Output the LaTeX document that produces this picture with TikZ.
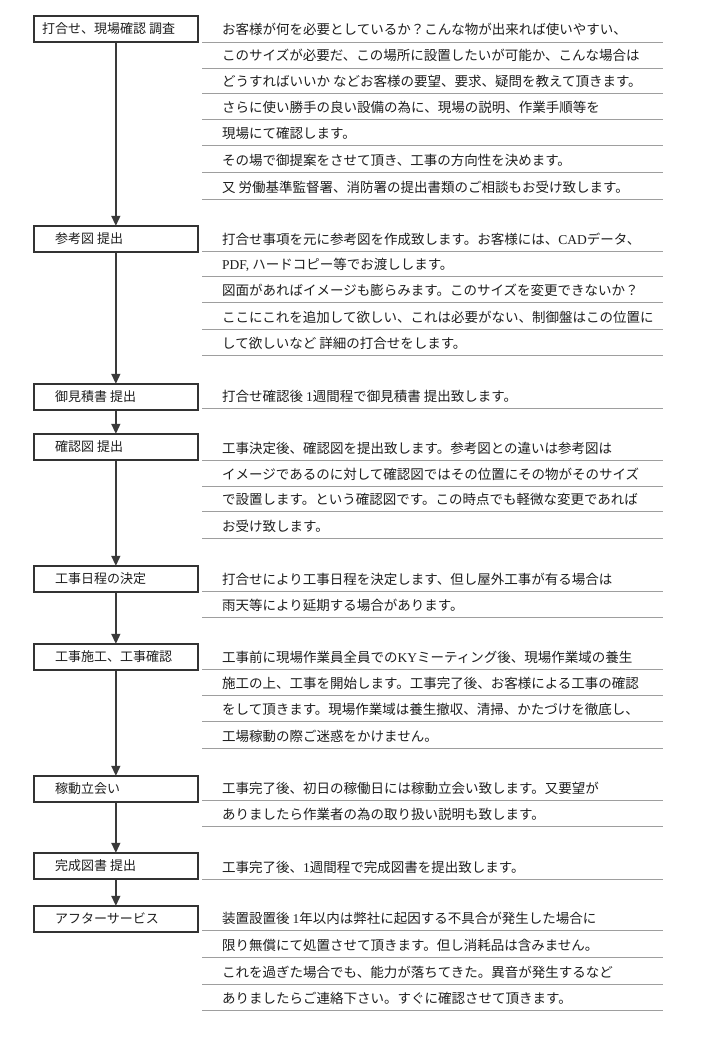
\documentclass[tikz,border=0pt]{standalone}
\usepackage{fontspec}
\setmainfont{Noto Sans CJK JP}
\newfontfamily\lat{Liberation Serif}
\usetikzlibrary{arrows.meta}
\definecolor{boxc}{HTML}{333333}
\definecolor{flowc}{HTML}{3A3A3A}
\definecolor{rulec}{HTML}{9E9E9E}
\definecolor{txtc}{HTML}{1E1E1E}
\tikzset{
  stepbox/.style={draw=boxc, line width=1.7pt, minimum width=164pt, minimum height=26pt, inner sep=0pt, anchor=north west},
  boxlbl/.style={anchor=base west, inner sep=0pt, text=txtc, font=\fontsize{13}{15}\selectfont},
  desc/.style={anchor=base west, inner sep=0pt, text=txtc, font=\fontsize{13.5}{16}\selectfont},
  rule/.style={draw=rulec, line width=0.9pt},
  flow/.style={draw=flowc, line width=1.4pt, -{Triangle[width=9pt,length=10pt]}, shorten >=-0.8pt}
}
\newcommand\drow[3]{\node[desc] (#1) at (222,#2-7) {#3}; \draw[rule] (202,#2) -- (663,#2);}
\begin{document}
\begin{tikzpicture}[x=1pt,y=-1pt]
\useasboundingbox[fill=white] (0,0) rectangle (701,1041);
% boxes
\node[stepbox] (b1) at (33,15) {};
\node[stepbox] (b2) at (33,225) {};
\node[stepbox] (b3) at (33,383) {};
\node[stepbox] (b4) at (33,433) {};
\node[stepbox] (b5) at (33,565) {};
\node[stepbox] (b6) at (33,643) {};
\node[stepbox] (b7) at (33,775) {};
\node[stepbox] (b8) at (33,852) {};
\node[stepbox] (b9) at (33,905) {};
% box labels
\node[boxlbl] (l1) at (42,33.5) {打合せ、現場確認 調査};
\node[boxlbl] (l2) at (55,243.5) {参考図 提出};
\node[boxlbl] (l3) at (55,401.5) {御見積書 提出};
\node[boxlbl] (l4) at (55,451.5) {確認図 提出};
\node[boxlbl] (l5) at (55,583.5) {工事日程の決定};
\node[boxlbl] (l6) at (55,661.5) {工事施工、工事確認};
\node[boxlbl] (l7) at (55,793.5) {稼動立会い};
\node[boxlbl] (l8) at (55,870.5) {完成図書 提出};
\node[boxlbl] (l9) at (55,923.5) {アフターサービス};
% arrows
\draw[flow] (b1) -- (b2);
\draw[flow] (b2) -- (b3);
\draw[flow] (b3) -- (b4);
\draw[flow] (b4) -- (b5);
\draw[flow] (b5) -- (b6);
\draw[flow] (b6) -- (b7);
\draw[flow] (b7) -- (b8);
\draw[flow] (b8) -- (b9);
% section 1
\drow{s1a}{42}{お客様が何を必要としているか？こんな物が出来れば使いやすい、}
\drow{s1b}{68}{このサイズが必要だ、この場所に設置したいが可能か、こんな場合は}
\drow{s1c}{93.3}{どうすればいいか などお客様の要望、要求、疑問を教えて頂きます。}
\drow{s1d}{119.3}{さらに使い勝手の良い設備の為に、現場の説明、作業手順等を}
\drow{s1e}{145.7}{現場にて確認します。}
\drow{s1f}{172.3}{その場で御提案をさせて頂き、工事の方向性を決めます。}
\drow{s1g}{199}{又 労働基準監督署、消防署の提出書類のご相談もお受け致します。}
% section 2
\drow{s2a}{251}{打合せ事項を元に参考図を作成致します。お客様には、{\lat CAD}データ、}
\drow{s2b}{276.7}{{\lat PDF,} ハードコピー等でお渡しします。}
\drow{s2c}{302.7}{図面があればイメージも膨らみます。このサイズを変更できないか？}
\drow{s2d}{329.3}{ここにこれを追加して欲しい、これは必要がない、制御盤はこの位置に}
\drow{s2e}{355}{して欲しいなど 詳細の打合せをします。}
% section 3
\drow{s3a}{408.3}{打合せ確認後 {\lat 1}週間程で御見積書 提出致します。}
% section 4
\drow{s4a}{460}{工事決定後、確認図を提出致します。参考図との違いは参考図は}
\drow{s4b}{486}{イメージであるのに対して確認図ではその位置にその物がそのサイズ}
\drow{s4c}{511.7}{で設置します。という確認図です。この時点でも軽微な変更であれば}
\drow{s4d}{538.3}{お受け致します。}
% section 5
\drow{s5a}{591.7}{打合せにより工事日程を決定します、但し屋外工事が有る場合は}
\drow{s5b}{617.3}{雨天等により延期する場合があります。}
% section 6
\drow{s6a}{669.3}{工事前に現場作業員全員での{\lat KY}ミーティング後、現場作業域の養生}
\drow{s6b}{695.7}{施工の上、工事を開始します。工事完了後、お客様による工事の確認}
\drow{s6c}{721.7}{をして頂きます。現場作業域は養生撤収、清掃、かたづけを徹底し、}
\drow{s6d}{748.3}{工場稼動の際ご迷惑をかけません。}
% section 7
\drow{s7a}{800}{工事完了後、初日の稼働日には稼動立会い致します。又要望が}
\drow{s7b}{826}{ありましたら作業者の為の取り扱い説明も致します。}
% section 8
\drow{s8a}{879.3}{工事完了後、{\lat 1}週間程で完成図書を提出致します。}
% section 9
\drow{s9a}{930.7}{装置設置後 {\lat 1}年以内は弊社に起因する不具合が発生した場合に}
\drow{s9b}{957.3}{限り無償にて処置させて頂きます。但し消耗品は含みません。}
\drow{s9c}{984}{これを過ぎた場合でも、能力が落ちてきた。異音が発生するなど}
\drow{s9d}{1010.7}{ありましたらご連絡下さい。すぐに確認させて頂きます。}
\end{tikzpicture}
\end{document}
